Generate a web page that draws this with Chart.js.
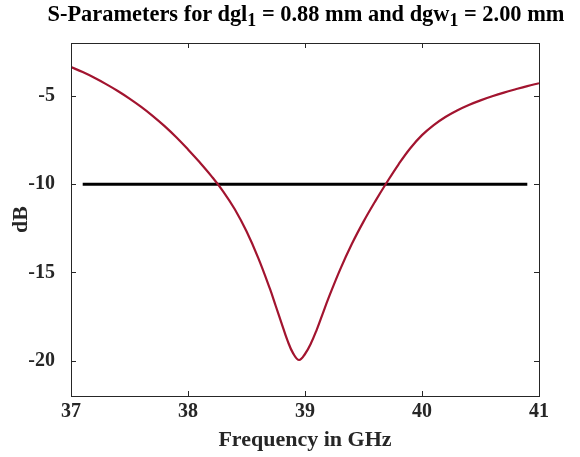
<!DOCTYPE html>
<html lang="en">
<head>
  <meta charset="UTF-8">
  <title>S-Parameters</title>
  <style>
    body { margin: 0; background: #fff; }
    #wrap { position: relative; width: 580px; height: 457px; }
    #title {
      position: absolute;
      left: 16px;
      top: 1px;
      width: 580px;
      text-align: center;
      font: bold 22.4px 'Liberation Serif', serif;
      line-height: 26px;
      color: #000;
      white-space: nowrap;
    }
    #title sub { font-size: 80%; line-height: 0; }
  </style>
</head>
<body>
<div id="wrap">
  <canvas id="sparam" width="580" height="457"></canvas>
  <div id="title">S-Parameters for dgl<sub>1</sub> = 0.88 mm and dgw<sub>1</sub> = 2.00 mm</div>
</div>

<script src="https://cdn.jsdelivr.net/npm/chart.js"></script>
<script>
  // frequency (GHz) and |S11| (dB)
  const freqs = [37.0, 37.1, 37.2, 37.3, 37.4, 37.5, 37.6, 37.7, 37.8, 37.9,
                 38.0, 38.1, 38.2, 38.3, 38.4, 38.5, 38.6, 38.7, 38.75, 38.8,
                 38.85, 38.9, 38.95, 39.0, 39.05, 39.1, 39.15, 39.2, 39.3, 39.4,
                 39.5, 39.6, 39.7, 39.8, 39.9, 40.0, 40.1, 40.2, 40.3, 40.4,
                 40.5, 40.6, 40.7, 40.8, 40.9, 41.0];
  const s11 = [-3.36, -3.65, -3.97, -4.33, -4.72, -5.15, -5.62, -6.14, -6.71, -7.34,
               -8.03, -8.76, -9.54, -10.40, -11.42, -12.67, -14.17, -15.92, -16.90, -17.88,
               -18.85, -19.60, -19.96, -19.62, -19.03, -18.25, -17.36, -16.47, -14.84, -13.39,
               -12.12, -10.97, -9.89, -8.87, -7.96, -7.22, -6.65, -6.19, -5.82, -5.51,
               -5.25, -5.02, -4.81, -4.62, -4.44, -4.28];

  // -10 dB reference line
  const refFreqs = [37.1, 40.9];
  const refDb = [-10, -10];

  const xTicks = [37, 38, 39, 40, 41];
  const yTicks = [-20, -15, -10, -5];

  const axisColor = '#262626';
  const fontFamily = "'Liberation Serif', 'Times New Roman', serif";

  // MATLAB-style box with inward ticks on all four sides
  const boxTicks = {
    id: 'boxTicks',
    afterDatasetsDraw(chart) {
      const { ctx, chartArea: a, scales: { x, y } } = chart;
      const len = 5;
      ctx.save();
      ctx.strokeStyle = axisColor;
      ctx.lineWidth = 1;
      ctx.strokeRect(a.left + 0.5, a.top + 0.5, a.right - a.left, a.bottom - a.top);
      ctx.beginPath();
      x.ticks.forEach(t => {
        const px = Math.round(x.getPixelForValue(t.value)) + 0.5;
        ctx.moveTo(px, a.bottom); ctx.lineTo(px, a.bottom - len);
        ctx.moveTo(px, a.top); ctx.lineTo(px, a.top + len);
      });
      y.ticks.forEach(t => {
        const py = Math.round(y.getPixelForValue(t.value)) + 0.5;
        ctx.moveTo(a.left, py); ctx.lineTo(a.left + len, py);
        ctx.moveTo(a.right, py); ctx.lineTo(a.right - len, py);
      });
      ctx.stroke();
      ctx.restore();
    }
  };

  new Chart(document.getElementById('sparam'), {
    type: 'line',
    data: {
      datasets: [
        {
          label: 'S11',
          data: freqs.map((f, i) => ({ x: f, y: s11[i] })),
          borderColor: '#A2142F',
          borderWidth: 2.2,
          pointRadius: 0,
          tension: 0.4,
          fill: false
        },
        {
          label: '-10 dB',
          data: refFreqs.map((f, i) => ({ x: f, y: refDb[i] })),
          borderColor: '#000',
          borderWidth: 3,
          pointRadius: 0,
          fill: false
        }
      ]
    },
    options: {
      responsive: false,
      animation: false,
      devicePixelRatio: 1,
      layout: { padding: { top: 43, right: 41, left: 0, bottom: 0 } },
      plugins: {
        legend: { display: false },
        tooltip: { enabled: false }
      },
      scales: {
        x: {
          type: 'linear',
          min: 37,
          max: 41,
          afterBuildTicks: s => { s.ticks = xTicks.map(v => ({ value: v })); },
          afterFit: s => { s.height = 61; },
          grid: { display: false },
          border: { display: false },
          ticks: {
            color: axisColor,
            padding: -4,
            maxRotation: 0,
            font: { family: fontFamily, size: 20, weight: 'bold' }
          },
          title: {
            display: true,
            text: 'Frequency in GHz',
            color: axisColor,
            padding: { top: 0, bottom: 3 },
            font: { family: fontFamily, size: 22, weight: 'bold' }
          }
        },
        y: {
          min: -22,
          max: -2,
          afterBuildTicks: s => { s.ticks = yTicks.map(v => ({ value: v })); },
          afterFit: s => { s.width = 71; },
          grid: { display: false },
          border: { display: false },
          ticks: {
            color: axisColor,
            padding: 8,
            font: { family: fontFamily, size: 20, weight: 'bold' }
          },
          title: {
            display: true,
            text: 'dB',
            color: axisColor,
            padding: { top: 8, bottom: 0 },
            font: { family: fontFamily, size: 22, weight: 'bold' }
          }
        }
      }
    },
    plugins: [boxTicks]
  });
</script>
</body>
</html>
